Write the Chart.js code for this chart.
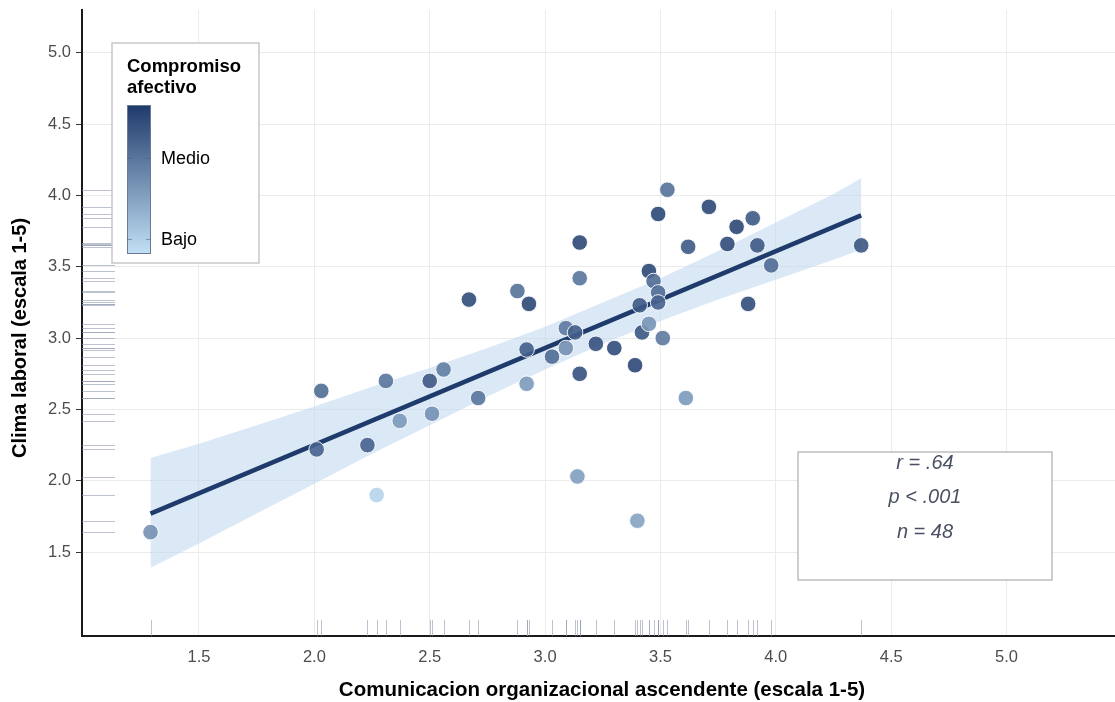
<!DOCTYPE html>
<html><head><meta charset="utf-8">
<script src="https://cdn.jsdelivr.net/npm/chart.js@4"></script>
<style>html,body{margin:0;padding:0;background:#fff}#wrap{width:1115px;height:702px;position:relative}canvas{display:block}</style>
</head><body><div id="wrap"><canvas id="c" width="1115" height="702" style="width:1115px;height:702px"></canvas></div>
<script>
// ---- data ----
const comunicacion = [1.29, 2.01, 2.03, 2.23, 2.27, 2.31, 2.37, 2.50, 2.51, 2.56, 2.67, 2.71, 2.88, 2.93, 2.92, 2.92, 3.03, 3.09, 3.09, 3.13, 3.15, 3.15, 3.15, 3.14, 3.22, 3.30, 3.39, 3.40, 3.41, 3.42, 3.45, 3.45, 3.47, 3.49, 3.49, 3.49, 3.53, 3.51, 3.62, 3.61, 3.71, 3.79, 3.83, 3.90, 3.88, 3.92, 3.98, 4.37];
const clima = [1.64, 2.22, 2.63, 2.25, 1.90, 2.70, 2.42, 2.70, 2.47, 2.78, 3.27, 2.58, 3.33, 3.24, 2.92, 2.68, 2.87, 3.07, 2.93, 3.04, 3.67, 3.42, 2.75, 2.03, 2.96, 2.93, 2.81, 1.72, 3.23, 3.04, 3.47, 3.10, 3.40, 3.32, 3.25, 3.87, 4.04, 3.00, 3.64, 2.58, 3.92, 3.66, 3.78, 3.84, 3.24, 3.65, 3.51, 3.65];
const compromiso = [2.7, 3.2, 3.1, 3.2, 1.95, 3.0, 2.6, 3.3, 2.7, 2.9, 3.45, 3.0, 3.05, 3.5, 3.25, 2.6, 3.1, 2.95, 2.7, 3.25, 3.5, 3.0, 3.4, 2.55, 3.4, 3.45, 3.5, 2.5, 3.3, 3.35, 3.5, 2.65, 3.1, 3.1, 3.2, 3.5, 3.05, 2.95, 3.3, 2.6, 3.5, 3.45, 3.5, 3.3, 3.45, 3.3, 3.1, 3.35];
const fitX = [1.29, 4.37];
const fitY = [1.77, 3.86];
const bandX = [1.29, 1.5, 1.75, 2.0, 2.25, 2.5, 2.75, 3.0, 3.25, 3.5, 3.75, 4.0, 4.25, 4.37];
const bandLow = [1.39, 1.56, 1.77, 1.98, 2.19, 2.39, 2.59, 2.78, 2.96, 3.12, 3.27, 3.41, 3.55, 3.62];
const bandHigh = [2.16, 2.26, 2.39, 2.52, 2.66, 2.79, 2.93, 3.08, 3.25, 3.42, 3.61, 3.81, 4.01, 4.12];
const xTicks = [1.5, 2.0, 2.5, 3.0, 3.5, 4.0, 4.5, 5.0];
const yTicks = [1.5, 2.0, 2.5, 3.0, 3.5, 4.0, 4.5, 5.0];
const legendTitle = ['Compromiso', 'afectivo'];
const legendLabels = ['Bajo', 'Medio'];
const legendValues = [2, 3];
const compRange = [1.82, 3.66];
const statLines = ['r = .64', 'p < .001', 'n = 48'];
const xTitle = 'Comunicacion organizacional ascendente (escala 1-5)';
const yTitle = 'Clima laboral (escala 1-5)';

// ---- styling ----
const LOW = [194, 224, 245], HIGH = [30, 58, 107];
function compColor(v, a) {
  let t = (v - compRange[0]) / (compRange[1] - compRange[0]);
  t = Math.max(0, Math.min(1, t));
  const c = LOW.map((l, i) => Math.round(l + (HIGH[i] - l) * t));
  return `rgba(${c[0]},${c[1]},${c[2]},${a})`;
}
const FONT = '"Liberation Sans", Arial, Helvetica, sans-serif';

const overlay = {
  id: 'overlay',
  beforeDatasetsDraw(chart) {
    const {ctx, chartArea: ca, scales: {x, y}} = chart;
    ctx.save();
    ctx.strokeStyle = 'rgba(145,153,178,0.6)';
    ctx.lineWidth = 1;
    comunicacion.forEach(v => {
      const px = Math.round(x.getPixelForValue(v)) + 0.5;
      ctx.beginPath(); ctx.moveTo(px, ca.bottom - 16); ctx.lineTo(px, ca.bottom); ctx.stroke();
    });
    clima.forEach(v => {
      const py = Math.round(y.getPixelForValue(v)) + 0.5;
      ctx.beginPath(); ctx.moveTo(ca.left, py); ctx.lineTo(ca.left + 33, py); ctx.stroke();
    });
    ctx.restore();
  },
  afterDraw(chart) {
    const {ctx, chartArea: ca} = chart;
    ctx.save();
    // axis titles
    ctx.fillStyle = '#000';
    ctx.textAlign = 'center'; ctx.textBaseline = 'middle';
    ctx.font = `bold 20.5px ${FONT}`;
    ctx.fillText(xTitle, 602, 690);
    ctx.font = `bold 20px ${FONT}`;
    ctx.save(); ctx.translate(20, 338); ctx.rotate(-Math.PI / 2);
    ctx.fillText(yTitle, 0, 0); ctx.restore();

    // legend box
    const lx = ca.left + 30, ly = ca.top + 33, lw = 147, lh = 220;
    ctx.fillStyle = '#fff';
    ctx.fillRect(lx, ly, lw, lh);
    ctx.strokeStyle = '#c8c8c8'; ctx.lineWidth = 1.5;
    ctx.strokeRect(lx, ly, lw, lh);
    ctx.fillStyle = '#000';
    ctx.font = `bold 18.5px ${FONT}`;
    ctx.textAlign = 'left'; ctx.textBaseline = 'alphabetic';
    ctx.fillText(legendTitle[0], lx + 15, ly + 29);
    ctx.fillText(legendTitle[1], lx + 15, ly + 50);
    const bx = lx + 15, bTop = ly + 62, bw = 24, bh = 149;
    const g = ctx.createLinearGradient(0, bTop + bh, 0, bTop);
    g.addColorStop(0, compColor(compRange[0], 1));
    g.addColorStop(1, compColor(compRange[1], 1));
    ctx.fillStyle = g;
    ctx.fillRect(bx, bTop, bw, bh);
    ctx.strokeStyle = '#6a7a94'; ctx.lineWidth = 1;
    ctx.strokeRect(bx + 0.5, bTop + 0.5, bw - 1, bh - 1);
    ctx.font = `18px ${FONT}`;
    ctx.textBaseline = 'middle';
    legendValues.forEach((v, i) => {
      const py = bTop + bh - (v - compRange[0]) / (compRange[1] - compRange[0]) * bh;
      ctx.strokeStyle = 'rgba(70,90,130,0.55)';
      ctx.beginPath(); ctx.moveTo(bx, py); ctx.lineTo(bx + 5, py);
      ctx.moveTo(bx + bw - 5, py); ctx.lineTo(bx + bw, py); ctx.stroke();
      ctx.fillStyle = '#000';
      ctx.fillText(legendLabels[i], bx + bw + 10, py + 1);
    });

    // stats box
    const sx = 798, sy = 452, sw = 254, sh = 128;
    ctx.fillStyle = '#fff';
    ctx.fillRect(sx, sy, sw, sh);
    ctx.strokeStyle = '#bdbdbd'; ctx.lineWidth = 1.5;
    ctx.strokeRect(sx, sy, sw, sh);
    ctx.fillStyle = '#4a5163';
    ctx.font = `italic 20px ${FONT}`;
    ctx.textAlign = 'center'; ctx.textBaseline = 'middle';
    statLines.forEach((t, i) => ctx.fillText(t, sx + sw / 2, sy + 11 + i * 34.5));
    ctx.restore();
  }
};

const points = comunicacion.map((x, i) => ({x, y: clima[i]}));
new Chart(document.getElementById('c'), {
  type: 'scatter',
  data: {
    datasets: [
      {
        data: points,
        pointRadius: 7.8, pointHoverRadius: 7.8,
        pointBackgroundColor: compromiso.map(v => compColor(v, 0.9)),
        pointBorderColor: 'rgba(255,255,255,0.9)', pointBorderWidth: 1
      },
      {
        type: 'line',
        data: fitX.map((x, i) => ({x, y: fitY[i]})),
        borderColor: '#1f3b6c', borderWidth: 4.5, pointRadius: 0, fill: false
      },
      {
        type: 'line',
        data: bandX.map((x, i) => ({x, y: bandHigh[i]})),
        borderWidth: 0, borderColor: 'rgba(0,0,0,0)', pointRadius: 0, fill: false
      },
      {
        type: 'line',
        data: bandX.map((x, i) => ({x, y: bandLow[i]})),
        borderWidth: 0, borderColor: 'rgba(0,0,0,0)', pointRadius: 0,
        fill: '-1', backgroundColor: 'rgba(189,215,238,0.55)'
      }
    ]
  },
  options: {
    responsive: false,
    devicePixelRatio: 1,
    animation: false,
    layout: {autoPadding: false, padding: {top: 10, right: 0, left: 0, bottom: 0}},
    plugins: {legend: {display: false}, tooltip: {enabled: false}},
    events: [],
    scales: {
      x: {
        type: 'linear', min: 0.993, max: 5.47,
        afterBuildTicks: s => { s.ticks = xTicks.map(v => ({value: v})); },
        afterFit: s => { s.height = 66; s.paddingLeft = 0; s.paddingRight = 0; },
        grid: {color: '#ebebeb', lineWidth: 1, drawTicks: false},
        border: {display: true, color: '#1a1a1a', width: 2},
        ticks: {font: {family: FONT, size: 16.5}, color: '#4d4d4d', padding: 12, callback: v => Number(v).toFixed(1)}
      },
      y: {
        type: 'linear', min: 0.912, max: 5.30,
        afterBuildTicks: s => { s.ticks = yTicks.map(v => ({value: v})); },
        afterFit: s => { s.width = 82; s.paddingTop = 0; s.paddingBottom = 0; },
        grid: {color: '#ebebeb', lineWidth: 1, drawTicks: true, tickLength: 6, tickColor: '#333'},
        border: {display: true, color: '#1a1a1a', width: 2},
        ticks: {font: {family: FONT, size: 16.5}, color: '#4d4d4d', padding: 5, callback: v => Number(v).toFixed(1)}
      }
    }
  },
  plugins: [overlay]
});
</script>
</body></html>
